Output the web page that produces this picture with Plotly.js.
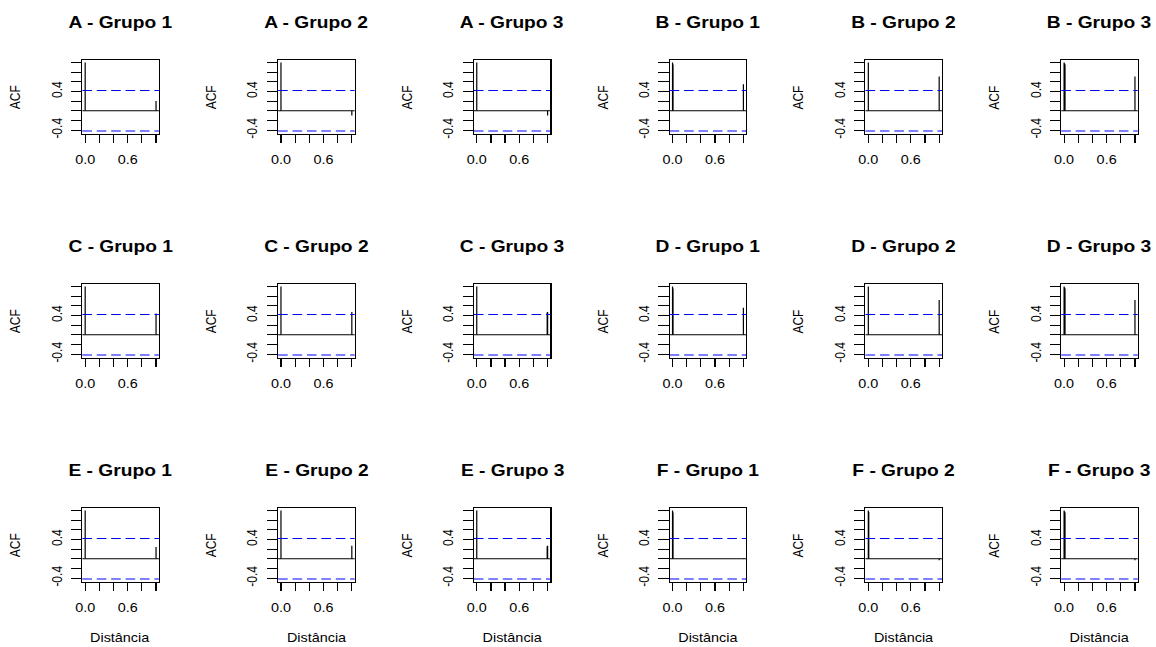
<!DOCTYPE html>
<html><head><meta charset="utf-8">
<script src="https://cdn.plot.ly/plotly-3.0.1.min.js"></script>
<style>
html,body{margin:0;padding:0;background:#fff;overflow:hidden;width:1156px;height:647px}
#wrap{width:963px;height:647px;transform:scaleX(1.2004);transform-origin:0 0}
</style></head><body><div id="wrap"><div id="chart" style="width:963px;height:647px"></div></div>
<script>
// ---- data ----
const titles = ["A - Grupo 1","A - Grupo 2","A - Grupo 3","B - Grupo 1","B - Grupo 2","B - Grupo 3",
                "C - Grupo 1","C - Grupo 2","C - Grupo 3","D - Grupo 1","D - Grupo 2","D - Grupo 3",
                "E - Grupo 1","E - Grupo 2","E - Grupo 3","F - Grupo 1","F - Grupo 2","F - Grupo 3"];
const lagValues = [
  [0,1],[0,1],[0,1],
  [0,0.006,1],[0,1],[0,0.006,0.012,1],
  [0,1],[0,1],[0,0.994,1],
  [0,0.006,1],[0,1],[0,0.006,0.012,1],
  [0,1],[0,1],[0,0.994,1],
  [0,0.006,1],[0,0.006,1],[0,0.006,0.012,1]
];
const acfValues = [
  [1,0.20],[1,-0.10],[1,-0.10],
  [1,0.96,0.55],[1,0.71],[1,0.98,0.96,0.71],
  [1,0.44],[1,0.47],[1,0.46,0.47],
  [1,0.96,0.56],[1,0.72],[1,0.98,0.96,0.72],
  [1,0.245],[1,0.27],[1,0.26,0.27],
  [1,0.96,0.01],[1,0.97,-0.03],[1,0.98,0.96,-0.03]
];
const confLimit = 0.418;
const yTickVals = [-0.4,-0.2,0,0.2,0.4,0.6,0.8,1.0];
const yTickText = ["-0.4","","","","0.4","","",""];
const xTickVals = [0,0.2,0.4,0.6,0.8,1.0];
const xTickText = ["0.0","","","0.6","",""];
const yTitle = "ACF";
const xTitle = "Dist\u00e2ncia";

// ---- layout geometry (unstretched px) ----
const W = 963, H = 647;
const colLeft0 = 68.6, colStep = 163.1, boxW = 63.75;
const rowTop0 = 59.7, rowStep = 224, boxH = 74;
const FONT = "Arial, 'Liberation Sans', sans-serif";

const traces = [], shapes = [], annotations = [];
const layout = {
  width: W, height: H, margin: {l:0,r:0,t:0,b:0},
  paper_bgcolor: "#fff", plot_bgcolor: "#fff", showlegend: false,
  font: {family: FONT, size: 12, color: "#000"}
};

titles.forEach((t, i) => {
  const r = Math.floor(i / 6), c = i % 6;
  const sfx = i === 0 ? "" : String(i + 1);
  const L = colLeft0 + c * colStep, T = rowTop0 + r * rowStep;
  const xs = [], ys = [];
  lagValues[i].forEach((lg, k) => { xs.push(lg, lg, null); ys.push(0, acfValues[i][k], null); });
  traces.push({type: "scatter", mode: "lines", x: xs, y: ys, xaxis: "x" + sfx, yaxis: "y" + sfx,
    line: {color: "#000", width: 1}, hoverinfo: "skip", cliponaxis: true});
  const axCommon = {showline: true, mirror: true, linecolor: "#000", linewidth: 1, showgrid: false,
    zeroline: false, ticks: "outside", ticklen: 8.5, tickwidth: 1, tickcolor: "#000",
    tickfont: {family: FONT, size: 12, color: "#000"}, fixedrange: true};
  layout["xaxis" + sfx] = Object.assign({}, axCommon, {
    anchor: "y" + sfx, domain: [L / W, (L + boxW) / W], range: [-0.04, 1.04],
    tickmode: "array", tickvals: xTickVals, ticktext: xTickText, tickangle: 0, ticklabelstandoff: 6});
  layout["yaxis" + sfx] = Object.assign({}, axCommon, {
    anchor: "x" + sfx, domain: [1 - (T + boxH) / H, 1 - T / H], range: [-0.475, 1.057],
    tickmode: "array", tickvals: yTickVals, ticktext: yTickText, tickangle: -90, ticklabelstandoff: 3});
  const xd = "x" + sfx + " domain", yr = "y" + sfx;
  shapes.push({type: "line", xref: xd, yref: yr, x0: 0, x1: 1, y0: 0, y1: 0, line: {color: "#000", width: 1}});
  [confLimit, -confLimit].forEach(v => shapes.push({type: "line", xref: xd, yref: yr, x0: 0, x1: 1, y0: v, y1: v,
    line: {color: "#0000ff", width: 1, dash: "8px,4px"}}));
  annotations.push({text: "<b>" + t + "</b>", xref: "paper", yref: "paper", x: (L + boxW / 2) / W,
    y: 1 - (22.5 + r * rowStep) / H, xanchor: "center", yanchor: "middle", showarrow: false,
    font: {family: FONT, size: 16, color: "#000"}});
  annotations.push({text: yTitle, xref: "paper", yref: "paper", x: (12.5 + c * colStep) / W,
    y: 1 - (T + boxH / 2 + 1) / H, xanchor: "center", yanchor: "middle", textangle: -90, showarrow: false,
    font: {family: FONT, size: 12, color: "#000"}});
  if (r === 2) {
    annotations.push({text: xTitle, xref: "paper", yref: "paper", x: (L + boxW / 2) / W,
      y: 1 - 638 / H, xanchor: "center", yanchor: "middle", showarrow: false,
      font: {family: FONT, size: 12, color: "#000"}});
  }
});
layout.shapes = shapes;
layout.annotations = annotations;
Plotly.newPlot("chart", traces, layout, {staticPlot: true, displayModeBar: false});
</script></body></html>
